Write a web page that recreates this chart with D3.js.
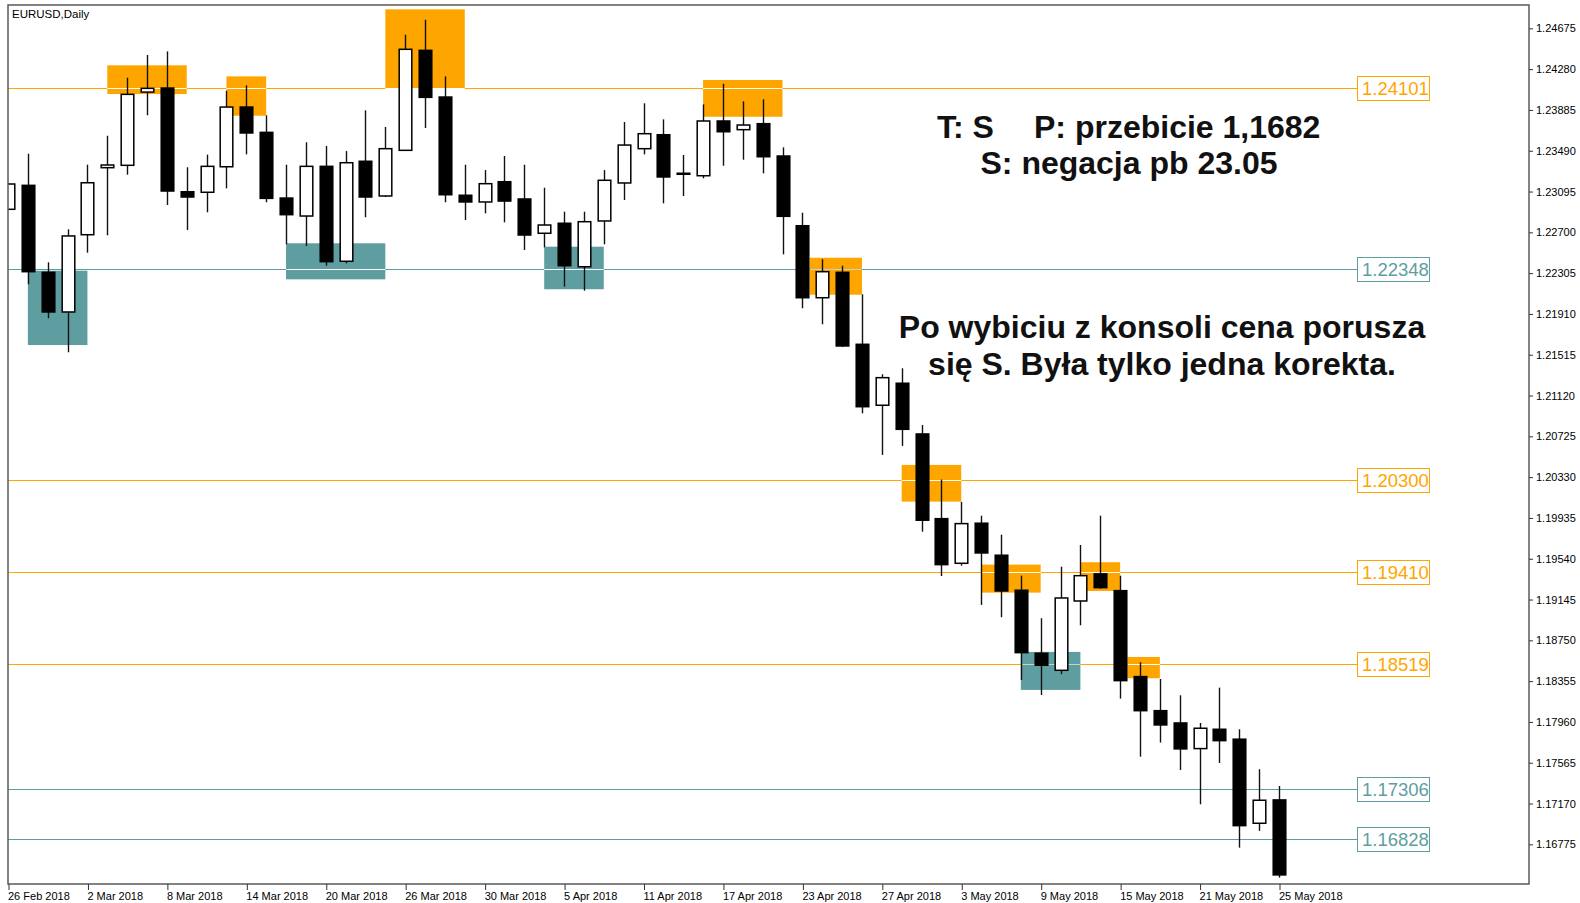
<!DOCTYPE html>
<html>
<head>
<meta charset="utf-8">
<script src="https://cdn.jsdelivr.net/npm/d3@7"></script>
<style>
  html, body { margin: 0; padding: 0; background: #fff; }
  svg { display: block; }
</style>
</head>
<body>
<svg id="chart" width="1580" height="903"></svg>
<script>
// ---------------- DATA ----------------
const dates = [
  "2018-02-26","2018-02-27","2018-02-28","2018-03-01","2018-03-02",
  "2018-03-05","2018-03-06","2018-03-07","2018-03-08","2018-03-09",
  "2018-03-12","2018-03-13","2018-03-14","2018-03-15","2018-03-16",
  "2018-03-19","2018-03-20","2018-03-21","2018-03-22","2018-03-23",
  "2018-03-26","2018-03-27","2018-03-28","2018-03-29","2018-03-30",
  "2018-04-02","2018-04-03","2018-04-04","2018-04-05","2018-04-06",
  "2018-04-09","2018-04-10","2018-04-11","2018-04-12","2018-04-13",
  "2018-04-16","2018-04-17","2018-04-18","2018-04-19","2018-04-20",
  "2018-04-23","2018-04-24","2018-04-25","2018-04-26","2018-04-27",
  "2018-04-30","2018-05-01","2018-05-02","2018-05-03","2018-05-04",
  "2018-05-07","2018-05-08","2018-05-09","2018-05-10","2018-05-11",
  "2018-05-14","2018-05-15","2018-05-16","2018-05-17","2018-05-18",
  "2018-05-21","2018-05-22","2018-05-23","2018-05-24","2018-05-25"
];
const opens = [
  1.22923,1.23155,1.22313,1.21929,1.22677,1.23326,1.23349,1.24058,1.24097,1.23093,
  1.23088,1.23335,1.23913,1.23668,1.23032,1.22858,1.23339,1.22420,1.23388,1.23052,
  1.23494,1.24462,1.24010,1.23059,1.22994,1.23190,1.23023,1.22691,1.22788,1.22367,
  1.22810,1.23178,1.23510,1.23645,1.23272,1.23248,1.23778,1.23694,1.23752,1.23439,
  1.22764,1.22067,1.22313,1.21616,1.21026,1.21239,1.20748,1.19928,1.19496,1.19884,
  1.19574,1.19235,1.18625,1.18460,1.19131,1.19393,1.19231,1.18399,1.18069,1.17950,
  1.17702,1.17889,1.17793,1.16979,1.17205
];
const highs = [
  1.23178,1.23461,1.22410,1.22729,1.23355,1.23635,1.24197,1.24417,1.24452,1.23330,
  1.23452,1.24071,1.24123,1.23833,1.23355,1.23572,1.23536,1.23487,1.23881,1.23720,
  1.24613,1.24758,1.24210,1.23355,1.23303,1.23439,1.23355,1.23132,1.22900,1.22900,
  1.23303,1.23768,1.23949,1.23794,1.23449,1.23939,1.24139,1.23968,1.23988,1.23523,
  1.22890,1.22439,1.22377,1.22100,1.21326,1.21384,1.20835,1.20306,1.20090,1.19957,
  1.19773,1.19376,1.18964,1.19463,1.19673,1.19957,1.19376,1.18538,1.18376,1.18218,
  1.17950,1.18292,1.17889,1.17502,1.17340
];
const lows = [
  1.22916,1.22197,1.21868,1.21539,1.22503,1.22671,1.23258,1.23833,1.22965,1.22723,
  1.22894,1.23126,1.23455,1.22991,1.22584,1.22568,1.22377,1.22400,1.22846,1.23042,
  1.23494,1.23710,1.22991,1.22819,1.22884,1.22797,1.22529,1.22555,1.22174,1.22135,
  1.22584,1.23013,1.23455,1.22981,1.23052,1.23223,1.23345,1.23403,1.23271,1.22487,
  1.21965,1.21810,1.21590,1.20948,1.20545,1.20632,1.19802,1.19373,1.19473,1.19093,
  1.18974,1.18367,1.18221,1.18422,1.18896,1.19250,1.18186,1.17624,1.17760,1.17495,
  1.17163,1.17563,1.16743,1.16905,1.16453
];
const closes = [
  1.23168,1.22319,1.21929,1.22665,1.23180,1.23352,1.24036,1.24094,1.23100,1.23042,
  1.23339,1.23913,1.23662,1.23029,1.22871,1.23339,1.22416,1.23374,1.23042,1.23510,
  1.24472,1.24007,1.23064,1.22994,1.23171,1.23003,1.22674,1.22771,1.22377,1.22803,
  1.23204,1.23545,1.23655,1.23236,1.23268,1.23778,1.23674,1.23739,1.23432,1.22855,
  1.22067,1.22319,1.21600,1.21012,1.21293,1.20793,1.19913,1.19483,1.19880,1.19596,
  1.19228,1.18631,1.18509,1.19160,1.19376,1.19260,1.18360,1.18069,1.17931,1.17699,
  1.17899,1.17779,1.16956,1.17202,1.16479
];

// Price axis tick values
const priceTicks = [1.24675,1.24280,1.23885,1.23490,1.23095,1.22700,1.22305,1.21910,1.21515,1.21120,
                    1.20725,1.20330,1.19935,1.19540,1.19145,1.18750,1.18355,1.17960,1.17565,1.17170,1.16775];
// Time axis tick labels
const timeTickDates = ["2018-02-26","2018-03-02","2018-03-08","2018-03-14","2018-03-20","2018-03-26","2018-03-30",
  "2018-04-05","2018-04-11","2018-04-17","2018-04-23","2018-04-27","2018-05-03","2018-05-09","2018-05-15",
  "2018-05-21","2018-05-25"];
const timeTickLabels = ["26 Feb 2018","2 Mar 2018","8 Mar 2018","14 Mar 2018","20 Mar 2018","26 Mar 2018","30 Mar 2018",
  "5 Apr 2018","11 Apr 2018","17 Apr 2018","23 Apr 2018","27 Apr 2018","3 May 2018","9 May 2018","15 May 2018",
  "21 May 2018","25 May 2018"];

// Horizontal levels
const levelPrices = [1.24101, 1.22348, 1.20300, 1.19410, 1.18519, 1.17306, 1.16828];
const levelKinds  = ["res","sup","res","res","res","sup","sup"];

// Zones (bar index from/to, price top/bottom)
const zoneFrom   = [1, 5, 11, 14, 19, 27, 35, 40.37, 45, 49, 51, 54, 56.37];
const zoneTo     = [4, 9, 13, 19, 23, 30, 39, 43, 48, 52, 54, 56, 58];
const zoneTop    = [1.22329,1.24317,1.24210,1.22594,1.24859,1.22561,1.24175,1.22454,1.20448,1.19483,1.18638,1.19506,1.18589];
const zoneBottom = [1.21609,1.24039,1.23829,1.22245,1.24094,1.22149,1.23819,1.22096,1.20093,1.19212,1.18270,1.19228,1.18383];
const zoneKinds  = ["sup","res","res","sup","res","sup","res","res","res","res","sup","res","res"];

const titleText = "EURUSD,Daily";
const noteLines1 = ["T: S", "P: przebicie 1,1682", "S: negacja pb 23.05"];
const noteLines2 = ["Po wybiciu z konsoli cena porusza", "się S. Była tylko jedna korekta."];

// ---------------- CHART ----------------
const ORANGE = "#FFA500", TEAL = "#5F9EA0";
const kindColor = k => k === "res" ? ORANGE : TEAL;
const L = 8, R = 1529, T = 5, B = 884;
const svg = d3.select("#chart");
const font = "'Liberation Sans', Arial, sans-serif";

const x = d3.scaleLinear().domain([0, dates.length - 1]).range([8, 1279]);
const y = d3.scaleLinear().domain([1.16391, 1.24901]).range([B, T]);

const candles = dates.map((d, i) => ({ d, i, o: opens[i], h: highs[i], l: lows[i], c: closes[i] }));
const zones = zoneFrom.map((f, i) => ({ f, t: zoneTo[i], top: zoneTop[i], bot: zoneBottom[i], k: zoneKinds[i] }));
const levels = levelPrices.map((p, i) => ({ p, k: levelKinds[i] }));

svg.append("rect").attr("width", 1580).attr("height", 903).attr("fill", "#fff");

svg.append("defs").append("clipPath").attr("id", "plotclip")
  .append("rect").attr("x", L).attr("y", T).attr("width", R - L).attr("height", B - T);

const g = svg.append("g").attr("clip-path", "url(#plotclip)");

// zones
g.selectAll("rect.zone").data(zones).join("rect")
  .attr("x", d => x(d.f)).attr("width", d => x(d.t) - x(d.f))
  .attr("y", d => y(d.top)).attr("height", d => y(d.bot) - y(d.top))
  .attr("fill", d => kindColor(d.k));

const labelBoxX = 1357, labelBoxW = 72, labelBoxH = 24;

// level lines
g.selectAll("line.level").data(levels).join("line")
  .attr("x1", L).attr("x2", labelBoxX)
  .attr("y1", d => Math.round(y(d.p)) + 0.5).attr("y2", d => Math.round(y(d.p)) + 0.5)
  .attr("stroke", d => kindColor(d.k)).attr("stroke-width", 1);

// line segments inside zones (lighter, XOR-like)
const crossings = [];
zones.forEach(z => levels.forEach(lv => {
  if (lv.p <= z.top && lv.p >= z.bot) crossings.push({ z, lv });
}));
g.selectAll("line.cross").data(crossings).join("line")
  .attr("x1", d => x(d.z.f)).attr("x2", d => x(d.z.t))
  .attr("y1", d => Math.round(y(d.lv.p)) + 0.5).attr("y2", d => Math.round(y(d.lv.p)) + 0.5)
  .attr("stroke", d => d.z.k === d.lv.k ? "#ffffff" : "#b8d4d4").attr("stroke-width", 1.2);

// candles
const bw = 12.6;
const cg = g.selectAll("g.candle").data(candles).join("g");
cg.append("line")
  .attr("x1", d => Math.round(x(d.i)) + 0.5).attr("x2", d => Math.round(x(d.i)) + 0.5)
  .attr("y1", d => y(d.h)).attr("y2", d => y(d.l))
  .attr("stroke", "#111").attr("stroke-width", 1.4);
cg.append("rect")
  .attr("x", d => Math.round(x(d.i)) + 0.5 - bw / 2)
  .attr("width", bw)
  .attr("y", d => y(Math.max(d.o, d.c)))
  .attr("height", d => Math.max(1, Math.abs(y(d.o) - y(d.c))))
  .attr("fill", d => d.c >= d.o ? "#fff" : "#000")
  .attr("stroke", "#000").attr("stroke-width", 1.5);

// level labels
const lb = svg.selectAll("g.lvlabel").data(levels).join("g");
lb.append("rect")
  .attr("x", labelBoxX + 0.5).attr("width", labelBoxW)
  .attr("y", d => Math.round(y(d.p)) - labelBoxH / 2 + 0.5).attr("height", labelBoxH)
  .attr("fill", "#fff").attr("stroke", d => kindColor(d.k)).attr("stroke-width", 1);
lb.append("text")
  .attr("x", labelBoxX + 5).attr("y", d => Math.round(y(d.p)) + 7)
  .attr("font-family", font).attr("font-size", 18.5)
  .attr("fill", d => kindColor(d.k))
  .text(d => d.p.toFixed(5));

// frame
svg.append("rect").attr("x", L).attr("y", T).attr("width", R - L).attr("height", B - T)
  .attr("fill", "none").attr("stroke", "#5a5a5a").attr("stroke-width", 1.5);

// right price axis
const yAxis = d3.axisRight(y).tickValues(priceTicks).tickSize(4).tickPadding(3)
  .tickFormat(d => d.toFixed(5));
const ya = svg.append("g").attr("transform", `translate(${R},0)`).call(yAxis);
ya.select(".domain").remove();
ya.selectAll(".tick line").attr("stroke", "#333");
ya.selectAll(".tick text").attr("font-family", font).attr("font-size", 11).attr("fill", "#000");

// bottom time axis
const tickIdx = timeTickDates.map(d => dates.indexOf(d));
const xAxis = d3.axisBottom(x).tickValues(tickIdx).tickSize(6).tickPadding(2)
  .tickFormat((d, i) => timeTickLabels[i]);
const xa = svg.append("g").attr("transform", `translate(0.5,${B})`).call(xAxis);
xa.select(".domain").remove();
xa.selectAll(".tick line").attr("stroke", "#333");
xa.selectAll(".tick text").attr("font-family", font).attr("font-size", 11).attr("fill", "#000")
  .attr("text-anchor", "start").attr("dx", -1).attr("y", 16).attr("dy", 0);

// title
svg.append("text").attr("x", 12).attr("y", 18).attr("font-family", font).attr("font-size", 11.5)
  .attr("fill", "#000").text(titleText);

// annotations
const ann = svg.append("g").attr("font-family", font).attr("font-weight", "bold").attr("fill", "#111");
ann.append("text").attr("x", 937).attr("y", 138).attr("font-size", 32).text(noteLines1[0]);
ann.append("text").attr("x", 1034).attr("y", 138).attr("font-size", 32).text(noteLines1[1]);
ann.append("text").attr("x", 1129).attr("y", 174).attr("font-size", 32).attr("text-anchor", "middle").text(noteLines1[2]);
ann.append("text").attr("x", 1162).attr("y", 338).attr("font-size", 32).attr("text-anchor", "middle").text(noteLines2[0]);
ann.append("text").attr("x", 1162).attr("y", 375).attr("font-size", 32).attr("text-anchor", "middle").text(noteLines2[1]);
</script>
</body>
</html>
